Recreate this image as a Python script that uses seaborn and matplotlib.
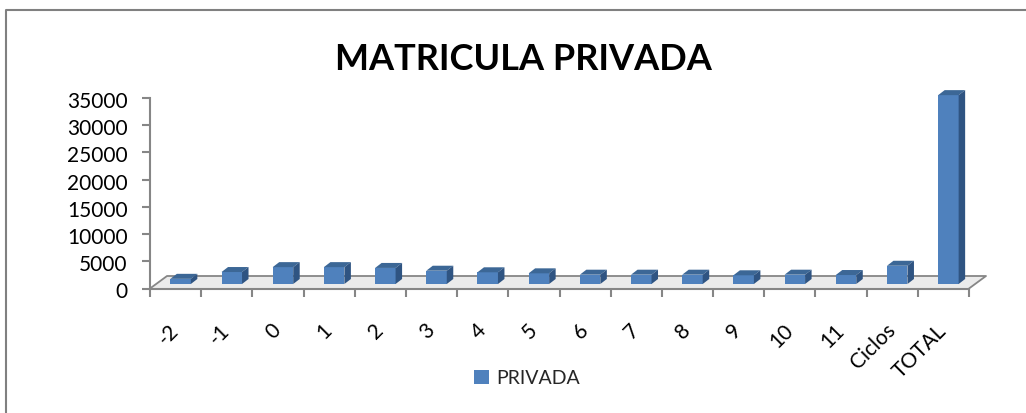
import numpy as np
import pandas as pd
import seaborn as sns
import matplotlib.pyplot as plt
from matplotlib.patches import Polygon
from matplotlib.lines import Line2D
from matplotlib.transforms import Affine2D, IdentityTransform

# Datos
categorias = ['-2', '-1', '0', '1', '2', '3', '4', '5', '6', '7', '8', '9', '10', '11', 'Ciclos', 'TOTAL']
privada = [950, 2200, 3100, 3100, 2950, 2440, 2150, 1960, 1710, 1710, 1710, 1600, 1710, 1650, 3350, 34700]
y_ticks = [0, 5000, 10000, 15000, 20000, 25000, 30000, 35000]

azul = '#4F81BD'
azul_top = '#3C6796'
azul_lado = '#2F5482'
gris = '#868686'

sns.set_style('white')
plt.rcParams['font.family'] = ['Lato', 'DejaVu Sans']

W, H = 1026, 413
fig = plt.figure(figsize=(W / 100, H / 100), dpi=100)
ax = fig.add_axes([150 / W, 1 - 288.5 / H, 819 / W, 190.5 / H])

df = pd.DataFrame({'grado': categorias, 'valor': privada})
sns.barplot(data=df, x='grado', y='valor', color=azul, width=0.4, saturation=1, label='PRIVADA', ax=ax, zorder=3)

ax.set_xlim(-0.5, 15.5)
ax.set_ylim(0, 35000)
ax.set_xlabel('')
ax.set_ylabel('')
ax.set_yticks(y_ticks)
ax.set_xticks(np.arange(-0.5, 16), minor=True)
ax.set_xticklabels(categorias)

for s in ['top', 'right']:
    ax.spines[s].set_visible(False)
for s in ['left', 'bottom']:
    ax.spines[s].set_color(gris)
    ax.spines[s].set_linewidth(1.5)

ax.tick_params(axis='y', left=True, length=6, width=1.5, color=gris, labelsize=15, pad=10, labelcolor='black')
ax.tick_params(axis='x', which='major', length=0, labelsize=15, pad=23, labelcolor='black')
ax.tick_params(axis='x', which='minor', bottom=True, length=6, width=1.5, color=gris)

for lab in ax.get_xticklabels():
    lab.set_rotation(45)
    lab.set_ha('right')
    lab.set_va('top')
    lab.set_transform(lab.get_transform() + Affine2D().translate(7, 0))
for lab in ax.get_yticklabels():
    lab.set_transform(lab.get_transform() + Affine2D().translate(0, -2))

# Piso 3D
dx_piso = 17 / 819
dy_piso = 12.5 / 190.5
piso = Polygon([(0, 0), (dx_piso, dy_piso), (1 + dx_piso, dy_piso), (1, 0)], closed=True,
               transform=ax.transAxes, facecolor='#EBEBEB', edgecolor='none', clip_on=False, zorder=1)
ax.add_line(Line2D([0, dx_piso, 1 + dx_piso, 1], [0, dy_piso, dy_piso, 0], transform=ax.transAxes,
                   color=gris, lw=1.3, clip_on=False, zorder=1.5))

# Barras 3D: cara frontal desplazada sobre el piso, mas tapa y lado
dx, dy = 6.5, 5
desp = Affine2D().translate(5, 4.5)
for bar in list(ax.patches):
    x0, y0 = ax.transData.transform((bar.get_x(), 0))
    x1, y1 = ax.transData.transform((bar.get_x() + bar.get_width(), bar.get_height()))
    x0, x1, y0, y1 = x0 + 5, x1 + 5, y0 + 4.5, y1 + 4.5
    bar.set_transform(ax.transData + desp)
    bar.set_clip_on(False)
    bar.set_edgecolor('none')
    tapa = Polygon([(x0, y1), (x0 + dx, y1 + dy), (x1 + dx, y1 + dy), (x1, y1)], closed=True,
                   transform=IdentityTransform(), facecolor=azul_top, edgecolor='none', clip_on=False, zorder=3)
    lado = Polygon([(x1, y0), (x1 + dx, y0 + dy), (x1 + dx, y1 + dy), (x1, y1)], closed=True,
                   transform=IdentityTransform(), facecolor=azul_lado, edgecolor='none', clip_on=False, zorder=3)
    ax.add_patch(tapa)
    ax.add_patch(lado)
ax.add_patch(piso)

# Titulo y leyenda
fig.text(523 / W, 1 - 59 / H, 'MATRICULA PRIVADA', ha='center', va='center', fontsize=26, color='black', weight='bold')
handles, labels = ax.get_legend_handles_labels()
ax.legend(handles[:1], labels[:1], loc='center', bbox_to_anchor=(527 / W, 1 - 378 / H), bbox_transform=fig.transFigure,
          frameon=False, fontsize=14, handlelength=0.75, handleheight=0.75, handletextpad=0.4, borderpad=0, borderaxespad=0)

# Marco del grafico (solo arriba e izquierda quedan en la imagen)
fig.add_artist(Line2D([5.5 / W, 5.5 / W, 1], [0, 1 - 10 / H, 1 - 10 / H], transform=fig.transFigure, color='#808080', lw=1.5))

fig.savefig('out.png', dpi=100)
